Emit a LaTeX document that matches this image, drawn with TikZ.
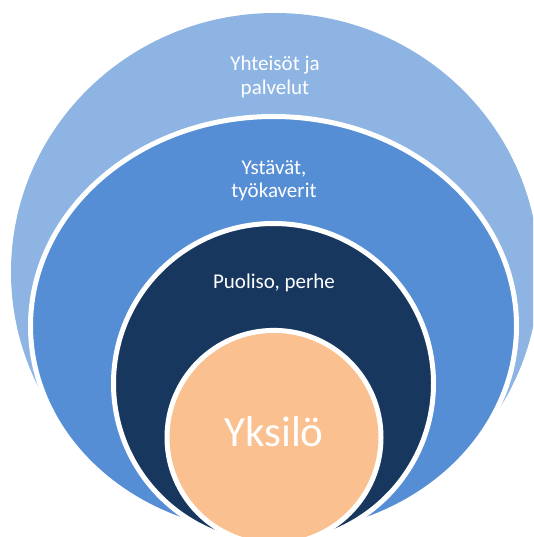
\documentclass[tikz,border=0pt]{standalone}
\usepackage{fontspec}
\setmainfont{Carlito}
\definecolor{ringA}{HTML}{8EB4E3}
\definecolor{ringB}{HTML}{558ED5}
\definecolor{ringC}{HTML}{17375E}
\definecolor{ringD}{HTML}{FAC090}
\tikzset{
  ring/.style={draw=white, line width=5pt},
  lbl/.style={text=white, align=center, anchor=base, inner sep=0pt, font=\fontsize{21}{24}\selectfont},
}
\begin{document}
\begin{tikzpicture}[x=1pt, y=-1pt]
\useasboundingbox (0,0) rectangle (533,537);
\begin{scope}
\clip (0,0) rectangle (533,537);
\fill[ringA] (275,272) ellipse [x radius=264, y radius=259];
\path[ring, fill=ringB] (273.5,326) ellipse [x radius=243, y radius=209.5];
\path[ring, fill=ringC] (273.5,383.5) circle [radius=160];
\path[ring, fill=ringD] (274,437.4) circle [radius=107];
\end{scope}
\node[lbl] (a) at (275,95) {Yhteisöt ja\\palvelut};
\node[lbl, font=\fontsize{21}{23}\selectfont] (b) at (274,197.5) {Ystävät,\\työkaverit};
\node[lbl] (c) at (274,288.5) {Puoliso, perhe};
\node[lbl, font=\fontsize{43}{50}\selectfont] (d) at (274,446) {Yksilö};
\end{tikzpicture}
\end{document}
